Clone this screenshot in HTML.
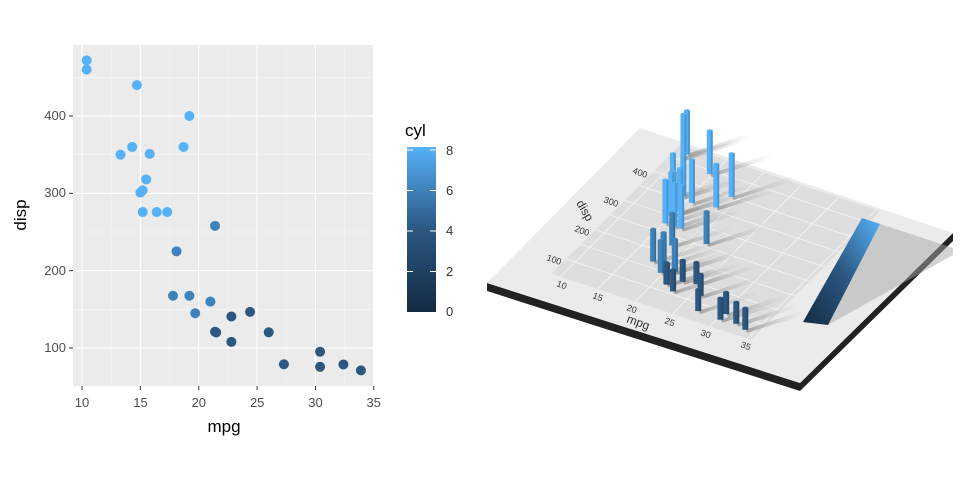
<!DOCTYPE html>
<html><head><meta charset="utf-8"><style>
html,body{margin:0;padding:0;background:#fff;width:960px;height:480px;overflow:hidden;font-family:"Liberation Sans",sans-serif}
</style></head><body>
<svg id="s" width="960" height="480" xmlns="http://www.w3.org/2000/svg" font-family="Liberation Sans, sans-serif">
<defs>
<linearGradient id="cb" x1="0" y1="1" x2="0" y2="0"><stop offset="0" stop-color="#132B43"/><stop offset="0.5" stop-color="#2B5781"/><stop offset="1" stop-color="#56B1F7"/></linearGradient>
<linearGradient id="cb3" x1="0" y1="1" x2="1" y2="0"><stop offset="0" stop-color="#132B43"/><stop offset="0.5" stop-color="#2B5781"/><stop offset="1" stop-color="#56B1F7"/></linearGradient>
<linearGradient id="sh" x1="0" y1="0" x2="1" y2="0"><stop offset="0" stop-color="#888" stop-opacity="0.7"/><stop offset="1" stop-color="#bbb" stop-opacity="0"/></linearGradient>
</defs>
<rect x="73" y="45" width="300" height="341" fill="#EBEBEB"/>
<g id="grid"></g>
<g id="pts"></g>
<g font-size="13" fill="#4D4D4D">
<text x="82" y="407" text-anchor="middle">10</text><text x="140.5" y="407" text-anchor="middle">15</text><text x="198.8" y="407" text-anchor="middle">20</text><text x="257.2" y="407" text-anchor="middle">25</text><text x="315.5" y="407" text-anchor="middle">30</text><text x="373.7" y="407" text-anchor="middle">35</text>
<text x="66" y="352" text-anchor="end">100</text><text x="66" y="275" text-anchor="end">200</text><text x="66" y="197" text-anchor="end">300</text><text x="66" y="120" text-anchor="end">400</text>
</g>
<text x="224" y="432" font-size="17" text-anchor="middle">mpg</text>
<text x="26" y="215" font-size="17" text-anchor="middle" transform="rotate(-90 26 215)">disp</text>
<text x="405" y="136" font-size="17">cyl</text>
<rect x="407" y="147" width="29" height="165" fill="url(#cb)"/>
<g stroke="#fff" stroke-width="1"><line x1="407" y1="150" x2="413" y2="150"/><line x1="430" y1="150" x2="436" y2="150"/><line x1="407" y1="190.5" x2="413" y2="190.5"/><line x1="430" y1="190.5" x2="436" y2="190.5"/><line x1="407" y1="231" x2="413" y2="231"/><line x1="430" y1="231" x2="436" y2="231"/><line x1="407" y1="271.5" x2="413" y2="271.5"/><line x1="430" y1="271.5" x2="436" y2="271.5"/></g>
<g font-size="13" fill="#333"><text x="446" y="155">8</text><text x="446" y="195">6</text><text x="446" y="235">4</text><text x="446" y="276">2</text><text x="446" y="316">0</text></g>
<!-- 3D -->
<polygon points="487,283 800,383 953,233 953,241 800,391 487,291" fill="#222"/>
<polygon points="487,283 640,128 953,233 800,383" fill="#EBEBEB"/>
<g id="g3"></g>
<polygon points="803,322 862,218 953,248 953,255 828,325" fill="#a8a8a8" opacity="0.5"/>
<polygon points="803,322 862,218 880,224 828,325" fill="url(#cb3)"/>
<g font-size="9" fill="#333">
<text x="556" y="286" transform="rotate(20 556 286)">10</text><text x="592" y="298" transform="rotate(20 592 298)">15</text><text x="626" y="310" transform="rotate(20 626 310)">20</text><text x="664" y="323" transform="rotate(20 664 323)">25</text><text x="700" y="335" transform="rotate(20 700 335)">30</text><text x="740" y="347" transform="rotate(20 740 347)">35</text>
<text x="546" y="260" transform="rotate(20 546 260)">100</text><text x="574" y="231" transform="rotate(20 574 231)">200</text><text x="603" y="202" transform="rotate(20 603 202)">300</text><text x="632" y="173" transform="rotate(20 632 173)">400</text>
<text x="626" y="322" font-size="12" transform="rotate(20 626 322)">mpg</text>
<text x="576" y="203" font-size="12" transform="rotate(60 576 203)">disp</text>
</g>
</svg>
<script>
var d=[[21,160,6],[21,160,6],[22.8,108,4],[21.4,258,6],[18.7,360,8],[18.1,225,6],[14.3,360,8],[24.4,146.7,4],[22.8,140.8,4],[19.2,167.6,6],[17.8,167.6,6],[16.4,275.8,8],[17.3,275.8,8],[15.2,275.8,8],[10.4,472,8],[10.4,460,8],[14.7,440,8],[32.4,78.7,4],[30.4,75.7,4],[33.9,71.1,4],[21.5,120.1,4],[15.5,318,8],[15.2,304,8],[13.3,350,8],[19.2,400,8],[27.3,79,4],[26,120.3,4],[30.4,95.1,4],[15.8,351,8],[19.7,145,6],[15,301,8],[21.4,121,4]];
var col={4:"#2B5781",6:"#3F83BC",8:"#56B1F7"};
var ns="http://www.w3.org/2000/svg";
function el(p,t,a){var e=document.createElementNS(ns,t);for(var k in a)e.setAttribute(k,a[k]);p.appendChild(e);return e;}
var g=document.getElementById('grid'),p=document.getElementById('pts');
function X(m){return 82+(m-10)*11.67;}function Y(v){return 348-(v-100)*0.7733;}
[12.5,17.5,22.5,27.5,32.5].forEach(function(m){el(g,'line',{x1:X(m),x2:X(m),y1:45,y2:386,stroke:'#F5F5F5','stroke-width':0.6});});
[150,250,350,450].forEach(function(v){el(g,'line',{x1:73,x2:373,y1:Y(v),y2:Y(v),stroke:'#F5F5F5','stroke-width':0.6});});
[10,15,20,25,30,35].forEach(function(m){el(g,'line',{x1:X(m),x2:X(m),y1:45,y2:386,stroke:'#fff','stroke-width':1.2});el(g,'line',{x1:X(m),x2:X(m),y1:386,y2:390,stroke:'#333'});});
[100,200,300,400].forEach(function(v){el(g,'line',{x1:73,x2:373,y1:Y(v),y2:Y(v),stroke:'#fff','stroke-width':1.2});el(g,'line',{x1:69,x2:73,y1:Y(v),y2:Y(v),stroke:'#333'});});
d.forEach(function(r){el(p,'circle',{cx:X(r[0]),cy:Y(r[1]),r:5,fill:col[r[2]]});});
var g3=document.getElementById('g3');
function G(m,v){return [575+7.48*(m-10)+0.293*(v-100),262+2.48*(m-10)-0.293*(v-100)];}
var c1=G(8.8,50),c2=G(35.5,50),c3=G(35.5,490),c4=G(8.8,490);
el(g3,'polygon',{points:[c1,c2,c3,c4].map(function(c){return c.join(',')}).join(' '),fill:'#DEDEDE'});
for(var m=10;m<=35;m+=5){var a=G(m,50),b=G(m,490);el(g3,'line',{x1:a[0],y1:a[1],x2:b[0],y2:b[1],stroke:'#f4f4f4','stroke-width':0.8});}
for(var v=100;v<=450;v+=50){var a=G(8.8,v),b=G(35.5,v);el(g3,'line',{x1:a[0],y1:a[1],x2:b[0],y2:b[1],stroke:'#f4f4f4','stroke-width':0.8});}
var s=d.slice().sort(function(a,b){return G(a[0],a[1])[1]-G(b[0],b[1])[1];});
s.forEach(function(r){var q=G(r[0],r[1]);el(g3,'polygon',{points:q[0]+','+q[1]+' '+(q[0]+60)+','+(q[1]-20)+' '+(q[0]+62)+','+(q[1]-16)+' '+(q[0]+2)+','+(q[1]+3),fill:'url(#sh)'});});
s.forEach(function(r){var q=G(r[0],r[1]);var h=r[2]*5.4;var c=col[r[2]];
el(g3,'rect',{x:q[0]-3,y:q[1]-h,width:6,height:h,fill:c});
el(g3,'ellipse',{cx:q[0],cy:q[1]-h,rx:3,ry:1.5,fill:c});
el(g3,'rect',{x:q[0]+1,y:q[1]-h,width:2,height:h,fill:'#000',opacity:0.15});});
</script>
</body></html>
